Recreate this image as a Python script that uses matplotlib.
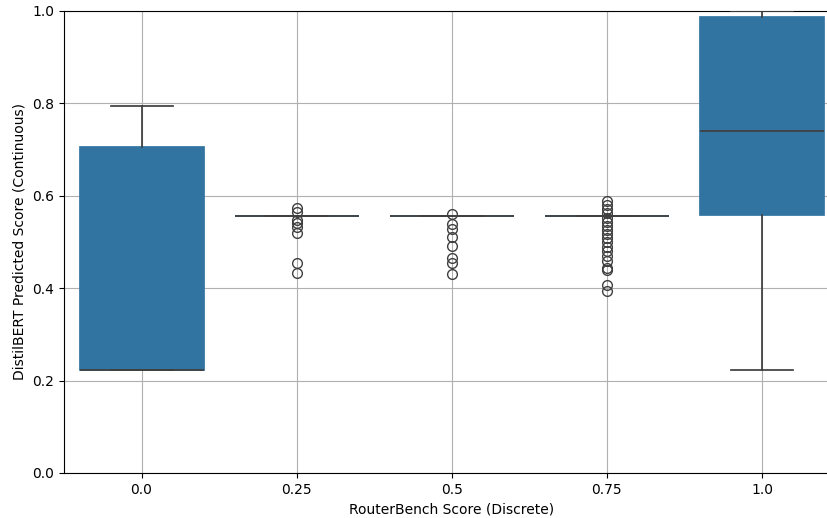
import numpy as np
import matplotlib.pyplot as plt

# RouterBench discrete score groups and the DistilBERT prediction summary per group
groups = ["0.0", "0.25", "0.5", "0.75", "1.0"]
q1 = [0.223, 0.556, 0.556, 0.556, 0.558]
med = [0.223, 0.556, 0.556, 0.556, 0.740]
q3 = [0.706, 0.556, 0.556, 0.556, 0.987]
whislo = [0.223, 0.556, 0.556, 0.556, 0.223]
whishi = [0.794, 0.556, 0.556, 0.556, 0.999]

fliers_025 = [0.574, 0.566, 0.548, 0.541, 0.533, 0.519, 0.455, 0.433]
fliers_05 = [0.561, 0.539, 0.528, 0.510, 0.491, 0.466, 0.455, 0.431]
fliers_075 = [0.589, 0.580, 0.571, 0.562, 0.551, 0.543, 0.534, 0.525, 0.517,
              0.508, 0.499, 0.489, 0.480, 0.469, 0.458, 0.444, 0.440, 0.408, 0.394]
fliers = [[], fliers_025, fliers_05, fliers_075, []]

stats = []
for i, g in enumerate(groups):
    stats.append(dict(label=g, q1=q1[i], med=med[i], q3=q3[i],
                      whislo=whislo[i], whishi=whishi[i], fliers=fliers[i]))

fig = plt.figure(figsize=(8.28, 5.18), dpi=100)
ax = fig.add_axes([64 / 828, 1 - 473 / 518, (839.5 - 64) / 828, (473 - 11) / 518])

line_col = "#3f3f3f"
ax.bxp(stats, positions=np.arange(len(groups)), widths=0.8, patch_artist=True,
       boxprops=dict(facecolor="#3274a1", edgecolor="#3274a1", linewidth=1.25),
       medianprops=dict(color=line_col, linewidth=1.25),
       whiskerprops=dict(color=line_col, linewidth=1.25),
       capprops=dict(color=line_col, linewidth=1.25),
       capwidths=0.4,
       flierprops=dict(marker="o", markerfacecolor="none", markeredgecolor=line_col,
                       markersize=7, markeredgewidth=1.0),
       zorder=3)

ax.set_xlim(-0.5, 4.5)
ax.set_ylim(0, 1)
ax.set_xticks(np.arange(len(groups)))
ax.set_xticklabels(groups)
ax.set_yticks(np.arange(0, 1.01, 0.2))
ax.grid(True, color="#b0b0b0", linewidth=0.8)
ax.set_axisbelow(True)
ax.set_xlabel("RouterBench Score (Discrete)")
ax.set_ylabel("DistilBERT Predicted Score (Continuous)")

fig.savefig("out.png", dpi=100)
